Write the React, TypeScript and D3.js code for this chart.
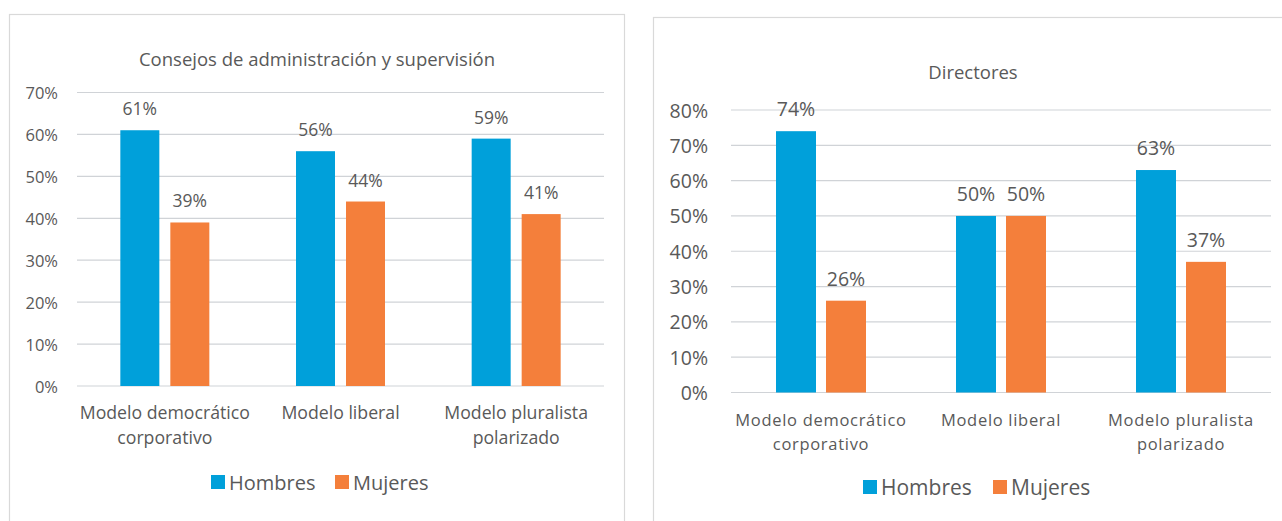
import React from 'react';
import * as d3 from 'd3';

// data
const categoryLines = [
  ['Modelo democrático', 'corporativo'],
  ['Modelo liberal'],
  ['Modelo pluralista', 'polarizado'],
];
const categories = categoryLines.map((l) => l.join(' '));
const series = ['Hombres', 'Mujeres'];
const seriesColors = ['#00A0DA', '#F47F3B'];

const consejosHombres = [61, 56, 59];
const consejosMujeres = [39, 44, 41];
const consejosTicks = [0, 10, 20, 30, 40, 50, 60, 70];

const directoresHombres = [74, 50, 63];
const directoresMujeres = [26, 50, 37];
const directoresTicks = [0, 10, 20, 30, 40, 50, 60, 70, 80];

const FONT = "'Open Sans', sans-serif";
const TEXT = '#595959';

type Layout = {
  box: [number, number, number, number];
  plotX: [number, number];
  plotY: [number, number];
  titleX: number;
  titleY: number;
  tickSize: number;
  tickGap: number;
  labelSize: number;
  catSize: number;
  catY: number;
  catGap: number;
  catSpacing: number;
  titleSize: number;
  legendY: number;
  legendSize: number;
  legendX: number[];
  barW: number;
  barGap: number;
};

function BarChart(props: {
  title: string;
  values: number[][];
  ticks: number[];
  layout: Layout;
}) {
  const { title, values, ticks, layout: L } = props;
  const [bx, by, bw, bh] = L.box;

  const x0 = d3.scaleBand<string>().domain(categories).range(L.plotX).padding(0);
  const groupW = L.barW * 2 + L.barGap;
  const x1 = d3
    .scaleBand<string>()
    .domain(series)
    .range([0, groupW])
    .paddingInner(L.barGap / (L.barW + L.barGap))
    .paddingOuter(0);
  const y = d3
    .scaleLinear()
    .domain([0, d3.max(ticks) as number])
    .range(L.plotY);

  return (
    <g fontFamily={FONT} fill={TEXT}>
      <rect x={bx} y={by} width={bw} height={bh} fill="#fff" stroke="#d9d9d9" strokeWidth={1.2} />
      <text x={L.titleX} y={L.titleY} textAnchor="middle" fontSize={L.titleSize} dominantBaseline="central">
        {title}
      </text>
      {/* grid + y ticks */}
      {ticks.map((t) => (
        <g key={t}>
          <line x1={L.plotX[0]} x2={L.plotX[1]} y1={y(t)} y2={y(t)} stroke="#d0d3d7" strokeWidth={1.2} />
          <text x={L.plotX[0] - L.tickGap} y={y(t)} textAnchor="end" dominantBaseline="central" fontSize={L.tickSize}>
            {t + '%'}
          </text>
        </g>
      ))}
      {/* bars */}
      {categories.map((c, ci) => {
        const gx = (x0(c) as number) + x0.bandwidth() / 2 - groupW / 2;
        return (
          <g key={c}>
            {series.map((s, si) => {
              const v = values[si][ci];
              const xx = gx + (x1(s) as number);
              return (
                <g key={s}>
                  <rect x={xx} y={y(v)} width={x1.bandwidth()} height={y(0) - y(v)} fill={seriesColors[si]} />
                  <text x={xx + x1.bandwidth() / 2} y={y(v) - 15} textAnchor="middle" fontSize={L.labelSize}>
                    {v + '%'}
                  </text>
                </g>
              );
            })}
            {categoryLines[ci].map((line, li) => (
              <text
                key={li}
                x={(x0(c) as number) + x0.bandwidth() / 2}
                y={L.catY + li * L.catGap}
                textAnchor="middle"
                dominantBaseline="central"
                fontSize={L.catSize}
                letterSpacing={L.catSpacing}
              >
                {line}
              </text>
            ))}
          </g>
        );
      })}
      {/* legend */}
      {series.map((s, si) => (
        <g key={s}>
          <rect x={L.legendX[si]} y={L.legendY - 7} width={14} height={14} fill={seriesColors[si]} />
          <text x={L.legendX[si] + 18} y={L.legendY} dominantBaseline="central" fontSize={L.legendSize}>
            {s}
          </text>
        </g>
      ))}
    </g>
  );
}

const leftLayout: Layout = {
  box: [9.5, 14.5, 615, 520],
  plotX: [77, 604],
  plotY: [386, 92.5],
  titleX: 317,
  titleY: 58,
  titleSize: 18.5,
  tickSize: 16.5,
  tickGap: 19,
  labelSize: 17.5,
  catSize: 17.7,
  catY: 412,
  catGap: 25,
  catSpacing: 0,
  legendY: 482,
  legendSize: 20,
  legendX: [211, 335],
  barW: 39,
  barGap: 11,
};

const rightLayout: Layout = {
  box: [653.5, 17.5, 640, 520],
  plotX: [731, 1271],
  plotY: [392.5, 110],
  titleX: 973,
  titleY: 71,
  titleSize: 18.5,
  tickSize: 19.5,
  tickGap: 23,
  labelSize: 19.5,
  catSize: 16.5,
  catY: 419,
  catGap: 24,
  catSpacing: 0.7,
  legendY: 487,
  legendSize: 21,
  legendX: [863, 993],
  barW: 40,
  barGap: 10,
};

export default function App() {
  return (
    <svg
      width={1282}
      height={521}
      style={{ position: 'absolute', left: 0, top: 0, display: 'block', background: '#fff' }}
    >
      <BarChart
        title="Consejos de administración y supervisión"
        values={[consejosHombres, consejosMujeres]}
        ticks={consejosTicks}
        layout={leftLayout}
      />
      <BarChart
        title="Directores"
        values={[directoresHombres, directoresMujeres]}
        ticks={directoresTicks}
        layout={rightLayout}
      />
    </svg>
  );
}
